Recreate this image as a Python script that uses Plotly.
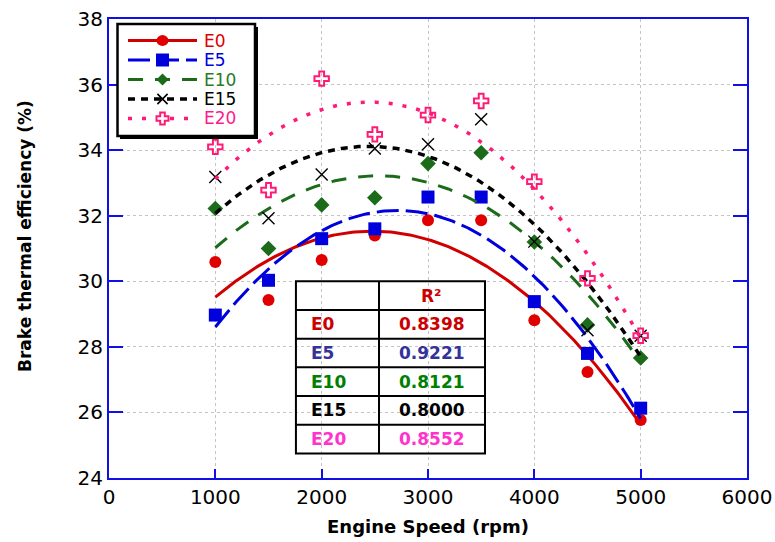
import numpy as np
import plotly.graph_objects as go

# Engine speed (rpm) and brake thermal efficiency (%) for each blend
speed = [1000, 1500, 2000, 2500, 3000, 3500, 4000, 4500, 5000]
bte_e0 = [30.59, 29.43, 30.65, 31.40, 31.86, 31.86, 28.81, 27.23, 25.77]
bte_e5 = [28.97, 30.03, 31.30, 31.60, 32.57, 32.57, 29.38, 27.80, 26.13]
bte_e10 = [32.22, 31.00, 32.33, 32.55, 33.59, 33.92, 31.20, 28.67, 27.66]
bte_e15 = [33.18, 31.92, 33.26, 34.05, 34.18, 34.94, 31.21, 28.51, 28.34]
bte_e20 = [34.10, 32.78, 36.18, 34.48, 35.07, 35.50, 33.04, 30.09, 28.34]

blends = ["E0", "E5", "E10", "E15", "E20"]
r_squared = ["0.8398", "0.9221", "0.8121", "0.8000", "0.8552"]

x_ticks = [0, 1000, 2000, 3000, 4000, 5000, 6000]
y_ticks = [24, 26, 28, 30, 32, 34, 36, 38]

FONT = "DejaVu Sans"
AXIS_BLUE = "#1010E6"

series = [
    dict(name="E0", y=bte_e0, color="#D00000", text="#E00000",
         marker=dict(symbol="circle", size=12, color="#E00000"),
         dash="solid", width=3),
    dict(name="E5", y=bte_e5, color="#0000DD", text="#0000E0",
         marker=dict(symbol="square", size=13, color="#0000DD"),
         dash="22px,7px", width=3),
    dict(name="E10", y=bte_e10, color="#1B6B1B", text="#2A7A2A",
         marker=dict(symbol="diamond", size=12, color="#1B6B1B"),
         dash="15px,12px", width=3),
    dict(name="E15", y=bte_e15, color="#000000", text="#000000",
         marker=dict(symbol="x-thin-open", size=12, color="#000000",
                     line=dict(color="#000000", width=1.4)),
         dash="7px,6px", width=3.5),
    dict(name="E20", y=bte_e20, color="#FF1A75", text="#FF1A8C",
         marker=dict(symbol="cross-open", size=12, color="#FF1A75",
                     line=dict(color="#FF1A75", width=2)),
         dash="4px,10px", width=3.5),
]

table_colors = ["#CC0000", "#333399", "#008000", "#000000", "#FF33CC"]

fig = go.Figure()

xs_fit = np.linspace(min(speed), max(speed), 200)
for s in series:
    line = dict(color=s["color"], width=s["width"], dash=s["dash"])
    # second-order trend line through the measured points
    coef = np.polyfit(speed, s["y"], 2)
    fig.add_trace(go.Scatter(
        x=xs_fit, y=np.polyval(coef, xs_fit), mode="lines", line=line,
        hoverinfo="skip", showlegend=False, name=s["name"] + " trend",
    ))
    fig.add_trace(go.Scatter(
        x=speed, y=s["y"], mode="markers", marker=s["marker"],
        showlegend=False, name=s["name"],
    ))

# R² table
tx0, tx1, tmid = 1758, 3536, 2539
ty_top, row_h = 30.0, 0.875
n_rows = len(blends) + 1
ty_bot = ty_top - n_rows * row_h
line_style = dict(color="black", width=2)
fig.add_shape(type="rect", x0=tx0, x1=tx1, y0=ty_bot, y1=ty_top,
              line=line_style, layer="above")
fig.add_shape(type="line", x0=tmid, x1=tmid, y0=ty_bot, y1=ty_top,
              line=line_style, layer="above")
for i in range(1, n_rows):
    yy = ty_top - i * row_h
    fig.add_shape(type="line", x0=tx0, x1=tx1, y0=yy, y1=yy,
                  line=line_style, layer="above")

cell_font = dict(family=FONT, size=17)
fig.add_annotation(x=(tmid + tx1) / 2, y=ty_top - row_h / 2, text="<b>R²</b>",
                   showarrow=False, font=dict(cell_font, color="#CC0000"))
for i, (b, r2, c) in enumerate(zip(blends, r_squared, table_colors)):
    yc = ty_top - (i + 1.5) * row_h
    fig.add_annotation(x=tx0 + 120, y=yc, text=f"<b>{b}</b>", xanchor="left",
                       showarrow=False, font=dict(cell_font, color=c))
    fig.add_annotation(x=(tmid + tx1) / 2, y=yc, text=f"<b>{r2}</b>",
                       showarrow=False, font=dict(cell_font, color=c))

# ---- legend box drawn in pixel units relative to the plot area ----
plot_l, plot_t, plot_w, plot_h = 109, 19, 638, 459


def px_x(p):
    return (p - plot_l) / plot_w


def px_y(p):
    return 1 - (p - plot_t) / plot_h


def paper_shape(**kw):
    fig.add_shape(xref="paper", yref="paper", layer="above", **kw)


# drop shadow, then the white framed box
paper_shape(type="rect", x0=px_x(120), x1=px_x(258), y0=px_y(139), y1=px_y(27),
            fillcolor="black", line=dict(width=0))
paper_shape(type="rect", x0=px_x(117.5), x1=px_x(255), y0=px_y(136), y1=px_y(24),
            fillcolor="white", line=dict(color="black", width=2.5))

leg_x0, leg_x1, leg_text_x = 128, 197, 202
leg_row0, leg_step = 40.5, 19.5
mk_x = (leg_x0 + leg_x1) / 2


def marker_shape(sym, cx, cy, m):
    half = m["size"] / 2
    color = m["color"]
    anchor = dict(xref="paper", yref="paper", xsizemode="pixel", ysizemode="pixel",
                  xanchor=px_x(cx), yanchor=px_y(cy), layer="above")
    if sym == "circle":
        fig.add_shape(type="circle", x0=-half, x1=half, y0=-half * 0.9, y1=half * 0.9,
                      fillcolor=color, line=dict(width=0), **anchor)
    elif sym == "square":
        fig.add_shape(type="rect", x0=-half, x1=half, y0=-half, y1=half,
                      fillcolor=color, line=dict(width=0), **anchor)
    elif sym == "diamond":
        fig.add_shape(type="path", path=f"M{-half},0L0,{half}L{half},0L0,{-half}Z",
                      fillcolor=color, line=dict(width=0), **anchor)
    elif sym == "x-thin-open":
        h = half * 0.85
        fig.add_shape(type="path", path=f"M{-h},{-h}L{h},{h}M{-h},{h}L{h},{-h}",
                      line=dict(color=color, width=1.6), **anchor)
    elif sym == "cross-open":
        a, b = half, half * 0.38
        p = (f"M{-b},{-a}L{b},{-a}L{b},{-b}L{a},{-b}L{a},{b}L{b},{b}L{b},{a}"
             f"L{-b},{a}L{-b},{b}L{-a},{b}L{-a},{-b}L{-b},{-b}Z")
        fig.add_shape(type="path", path=p, fillcolor="white",
                      line=dict(color=color, width=2), **anchor)


for i, s in enumerate(series):
    cy = leg_row0 + i * leg_step
    paper_shape(type="line", x0=px_x(leg_x0), x1=px_x(leg_x1), y0=px_y(cy), y1=px_y(cy),
                line=dict(color=s["color"], width=s["width"], dash=s["dash"]))
    marker_shape(s["marker"]["symbol"], mk_x, cy, s["marker"])
    fig.add_annotation(xref="paper", yref="paper", x=px_x(leg_text_x), y=px_y(cy),
                       xanchor="left", yanchor="middle", text=s["name"],
                       showarrow=False, font=dict(family=FONT, size=17, color=s["text"]))

# y-axis title placed beside the tick labels
fig.add_annotation(xref="paper", yref="paper", x=px_x(25), y=px_y(236),
                   xanchor="center", yanchor="middle", textangle=-90,
                   text="<b>Brake thermal efficiency (%)</b>", showarrow=False,
                   font=dict(family=FONT, size=17, color="black"))

fig.update_layout(
    width=775, height=542,
    margin=dict(l=109, r=28, t=19, b=64, autoexpand=False),
    paper_bgcolor="white", plot_bgcolor="white",
    font=dict(family=FONT, size=20, color="black"),
    showlegend=False,
)
fig.update_xaxes(
    range=[0, 6000], tickvals=x_ticks, ticktext=[str(v) for v in x_ticks],
    showline=True, linecolor=AXIS_BLUE, linewidth=2, mirror=True,
    ticks="inside", ticklen=9, tickcolor=AXIS_BLUE, tickwidth=2,
    showgrid=True, gridcolor="#C4C4C4", griddash="dot", gridwidth=1,
    zeroline=False, tickfont=dict(size=20), automargin=False,
    title=dict(text="<b>Engine Speed (rpm)</b>", font=dict(size=18), standoff=12),
)
fig.update_yaxes(
    range=[24, 38], tickvals=y_ticks, ticktext=[str(v) for v in y_ticks],
    showline=True, linecolor=AXIS_BLUE, linewidth=2, mirror="ticks",
    ticks="inside", ticklen=14, tickcolor=AXIS_BLUE, tickwidth=2,
    showgrid=True, gridcolor="#C4C4C4", griddash="dot", gridwidth=1,
    zeroline=False, tickfont=dict(size=20), automargin=False,
)

fig.write_html("out.html")
